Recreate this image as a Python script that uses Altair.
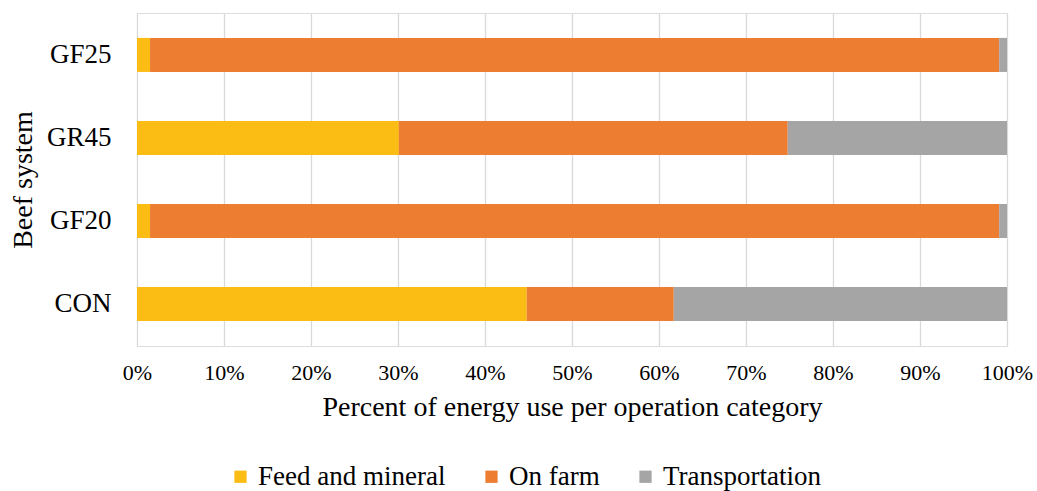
import altair as alt
import pandas as pd

systems = ["GF25", "GR45", "GF20", "CON"]
categories = ["Feed and mineral", "On farm", "Transportation"]
feed = [1.5, 30.1, 1.5, 44.8]
on_farm = [97.6, 44.7, 97.6, 16.9]
transport = [0.9, 25.2, 0.9, 38.3]
colors = ["#FBBC13", "#ED7D31", "#A5A5A5"]

rows = []
for i, s in enumerate(systems):
    for j, (c, v) in enumerate(zip(categories, [feed[i], on_farm[i], transport[i]])):
        rows.append({"system": s, "category": c, "value": v, "order": j})
df = pd.DataFrame(rows)

FONT = "Liberation Serif"

chart = alt.Chart(df).mark_bar(size=34).encode(
    x=alt.X("sum(value):Q", stack="normalize",
            scale=alt.Scale(domain=[0, 1], nice=False),
            axis=alt.Axis(format="%", values=[i / 10 for i in range(11)],
                          title="Percent of energy use per operation category",
                          grid=True, gridColor="#D9D9D9", gridWidth=1.3,
                          domain=False, ticks=False,
                          labelFont=FONT, labelFontSize=22, labelColor="#000",
                          labelPadding=16, labelFlush=False,
                          titleFont=FONT, titleFontSize=28, titleFontWeight="normal",
                          titleColor="#000", titlePadding=10)),
    y=alt.Y("system:N", sort=systems,
            scale=alt.Scale(paddingInner=0.59, paddingOuter=0.3),
            axis=alt.Axis(title="Beef system", domain=False, ticks=False,
                          labelFont=FONT, labelFontSize=27, labelColor="#000",
                          labelPadding=26,
                          titleFont=FONT, titleFontSize=28, titleFontWeight="normal",
                          titleColor="#000", titlePadding=9)),
    color=alt.Color("category:N", sort=categories,
                    scale=alt.Scale(domain=categories, range=colors),
                    legend=alt.Legend(orient="none", legendX=90, legendY=450,
                                      direction="horizontal", title=None,
                                      symbolType="square", symbolSize=150,
                                      symbolStrokeWidth=0,
                                      labelFont=FONT, labelFontSize=27, labelColor="#000",
                                      columnPadding=32, labelLimit=400)),
    order=alt.Order("order:Q"),
).properties(
    width=870, height=333,
    autosize=alt.AutoSizeParams(type="none"),
    padding={"left": 137, "top": 13, "right": 30, "bottom": 145},
).configure_view(stroke=None).configure(background="white")

chart.save("out.html", embed_options={"renderer": "svg", "actions": False})
